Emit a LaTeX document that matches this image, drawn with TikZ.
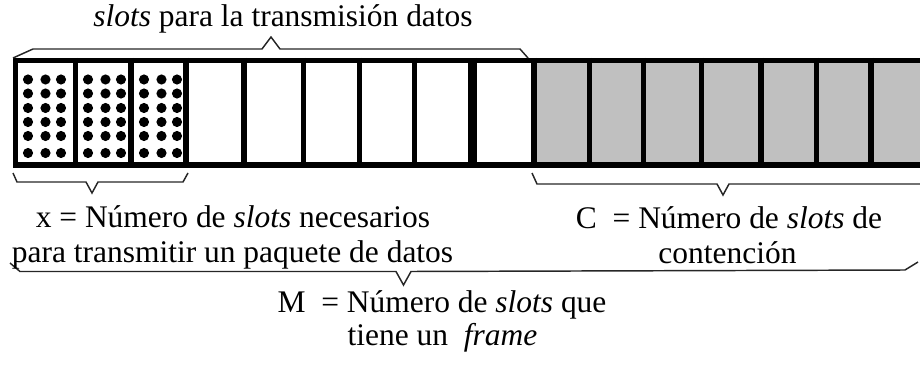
\documentclass[tikz,border=0pt]{standalone}
\usepackage{fontspec}
\setmainfont{Liberation Serif}
\definecolor{plata}{HTML}{C0C0C0}
\begin{document}
\begin{tikzpicture}[x=0.75pt,y=-0.75pt, line join=miter,
	lbl/.style={anchor=base, inner sep=0pt, font=\fontsize{23.6}{28}\selectfont},
	llave/.style={line width=1.1pt, color=black!85},
	borde/.style={line width=4.1pt}]
	\def\xmax{925} \def\ytop{60.5} \def\ybot{165}
	\useasboundingbox (0,0) rectangle (920,367);
	\clip (0,0) rectangle (920,367);
	% slots de contencion
	\fill[plata] (534,\ytop) rectangle (\xmax,\ybot);
	% slots con datos
	\foreach \s in {18,78,134}
		\foreach \c in {10,27.5,43}
			\foreach \r in {79.5,93.5,108,122,136,153}
				\fill (\s+\c,\r) circle (3.8pt);
	\draw[line width=4.3pt] (13,\ytop) -- (\xmax,\ytop);
	\draw[line width=4.8pt] (13,\ybot) -- (\xmax,\ybot);
	\foreach \x in {15.5,75.5,131,186,244,303.5,359.5,414.5,534,589.5,643.5,701.5,761,816.5,871}
		\draw[borde] (\x,58) -- (\x,168);
	\draw[line width=6.2pt] (472.5,58) -- (472.5,168);
	% llaves
	\draw[llave] (13,58) -- (33,49) -- (262,49) -- (271,37) -- (280,49) -- (520,49) -- (528,58);
	\draw[llave] (13,173) -- (17,182) -- (86,182) -- (92,193) -- (98,182) -- (183,182) -- (188,173);
	\draw[llave] (532,173) -- (537,184) -- (717,184) -- (723,195) -- (729,184) -- (\xmax,184);
	\draw[llave] (10,263) -- (20,271.5) -- (396,271.5) -- (403.5,285) -- (411,271.5) -- (905,270) -- (918,262);
	% textos
	\node[lbl] (tdatos) at (283,27) {\textit{slots} para la transmisión datos};
	\node[lbl] (x1) at (233,227) {x = Número de \textit{slots} necesarios};
	\node[lbl] (x2) at (232.5,262) {para transmitir un paquete de datos};
	\node[lbl] (c1) at (729,228) {C\ \ = Número de \textit{slots} de};
	\node[lbl] (c2) at (727.5,263) {contención};
	\node[lbl] (m1) at (442,312) {M\ \ = Número de \textit{slots} que};
	\node[lbl] (m2) at (442.5,345) {tiene un \ \textit{frame}};
\end{tikzpicture}
\end{document}
